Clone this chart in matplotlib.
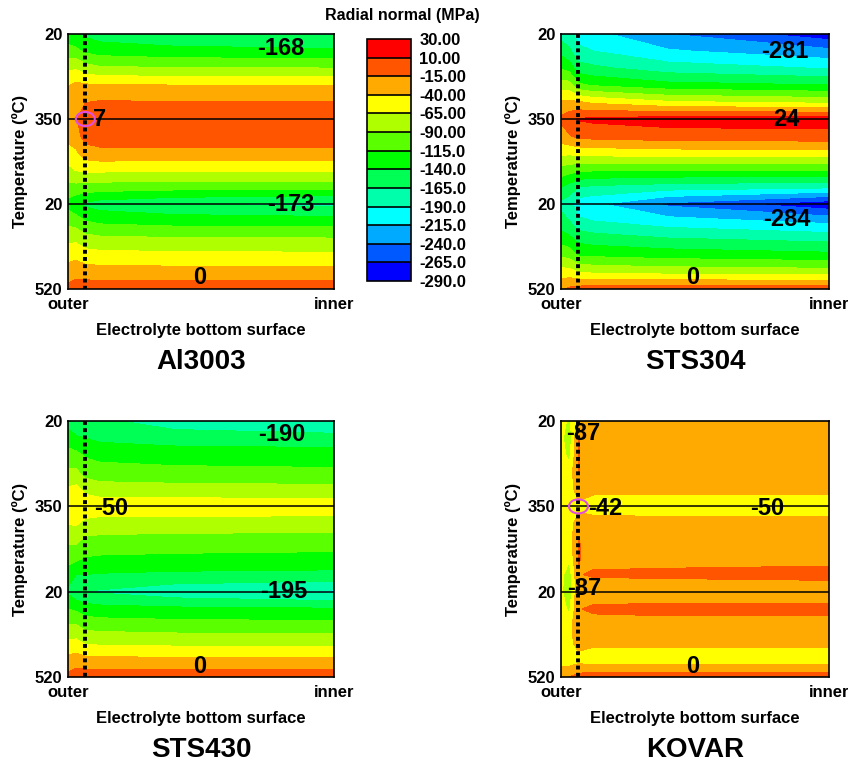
import numpy as np
import matplotlib
matplotlib.use("Agg")
import matplotlib.pyplot as plt
from matplotlib.patches import Ellipse

plt.rcParams['font.family'] = ['Liberation Sans', 'DejaVu Sans']
plt.rcParams['font.weight'] = 'bold'

# contour levels and colours (bottom -> top of the legend)
levels = [-290, -265, -240, -215, -190, -165, -140, -115, -90, -65, -40, -15, 10, 30]
level_labels = ["-290.0", "-265.0", "-240.0", "-215.0", "-190.0", "-165.0", "-140.0",
                "-115.0", "-90.00", "-65.00", "-40.00", "-15.00", "10.00", "30.00"]
band_colors = ["#0000ff", "#0058ff", "#00aaff", "#00ffff", "#00ffaa", "#00ff55", "#00ff00",
               "#5aff00", "#b0ff00", "#ffff00", "#ffaa00", "#ff5500", "#ff0000"]

# grid: x = position along electrolyte bottom (0 outer .. 1 inner)
#       y = step of the thermal cycle (0: 20C, 1: 350C, 2: 20C, 3: 520C)
x_pos = [0.0, 0.03, 0.065, 0.12, 0.4, 1.0]
y_pos = [0.0, 0.2, 0.4, 0.6, 0.8, 1.0, 1.2, 1.4, 1.6, 1.8, 2.0, 2.2, 2.4, 2.6, 2.8, 3.0]

# radial normal stress (MPa), one list per x column
al3003 = [
    [-132, -104, -70, -42, -30, -26, -32, -50, -72, -98, -125, -98, -72, -50, -28, -8],
    [-140, -108, -68, -34, -22, -18, -25, -45, -64, -98, -135, -103, -72, -47, -24, -3],
    [-145, -120, -80, -37, -16, 2, -5, -27, -60, -100, -145, -115, -82, -55, -28, 0],
    [-152, -126, -86, -39, -13, 6, -2, -22, -60, -102, -152, -121, -86, -57, -29, 0],
    [-160, -132, -89, -40, -14, 7, -2, -22, -62, -105, -163, -126, -89, -59, -30, 0],
    [-168, -135, -90, -40, -14, 7, -2, -22, -62, -105, -173, -128, -90, -60, -30, 0],
]
sts304 = [
    [-175, -150, -118, -78, -36, -10, -25, -60, -100, -140, -172, -155, -128, -95, -55, -20],
    [-180, -160, -125, -80, -35, 0, -18, -60, -105, -150, -180, -165, -135, -100, -55, -10],
    [-203, -182, -155, -110, -38, 12, -8, -58, -110, -165, -205, -185, -150, -118, -65, -5],
    [-208, -190, -160, -118, -45, 15, -6, -56, -112, -170, -210, -190, -155, -120, -70, 0],
    [-240, -212, -178, -132, -62, 22, -2, -52, -113, -178, -245, -205, -165, -126, -74, 0],
    [-281, -233, -192, -140, -72, 24, 0, -50, -115, -185, -284, -222, -175, -133, -78, 0],
]
sts430 = [
    [-150, -128, -105, -85, -62, -52, -64, -85, -105, -128, -145, -115, -88, -60, -32, -8],
    [-168, -135, -108, -85, -58, -48, -62, -85, -108, -140, -160, -120, -88, -58, -28, -2],
    [-158, -140, -118, -100, -72, -48, -72, -96, -116, -140, -165, -128, -98, -68, -32, 0],
    [-160, -146, -122, -105, -78, -50, -75, -98, -118, -142, -168, -132, -100, -70, -33, 0],
    [-178, -152, -126, -108, -80, -50, -76, -100, -120, -145, -182, -135, -103, -72, -34, 0],
    [-190, -155, -128, -110, -82, -50, -77, -102, -122, -147, -195, -138, -105, -73, -35, 0],
]
kovar = [
    [-55, -58, -55, -50, -48, -50, -48, -48, -52, -58, -60, -55, -50, -48, -50, -22],
    [-70, -82, -72, -55, -50, -52, -50, -52, -60, -80, -85, -70, -52, -48, -55, -15],
    [-35, -14, -14, -14, -30, -45, -30, -14, -14, -16, -16, -16, -16, -30, -50, -5],
    [-30, -25, -24, -26, -36, -48, -33, -25, -20, -13, -25, -12, -22, -35, -55, 0],
    [-30, -25, -24, -26, -36, -50, -33, -25, -20, -12, -25, -10, -22, -35, -55, 0],
    [-30, -25, -24, -26, -36, -50, -33, -25, -20, -10, -25, -10, -22, -35, -55, 0],
]

titles = ["Al3003", "STS304", "STS430", "KOVAR"]
fields = [al3003, sts304, sts430, kovar]
y_ticklabels = ["20", "350", "20", "520"]
x_ticklabels = ["outer", "inner"]
probe_x = 0.065

# value labels: (x, y, text)
notes = [
    [(0.80, 0.17, "-168"), (0.117, 1.0, "7"), (0.838, 2.0, "-173"), (0.496, 2.87, "0")],
    [(0.836, 0.2, "-281"), (0.842, 1.01, "24"), (0.843, 2.18, "-284"), (0.493, 2.87, "0")],
    [(0.803, 0.16, "-190"), (0.164, 1.02, "-50"), (0.81, 2.0, "-195"), (0.494, 2.88, "0")],
    [(0.083, 0.14, "-87"), (0.164, 1.02, "-42"), (0.768, 1.02, "-50"),
     (0.087, 1.96, "-87"), (0.492, 2.88, "0")],
]
circled = [True, False, False, True]

fig = plt.figure(figsize=(8.48, 7.65), dpi=100)
positions = [[0.0802, 0.6222, 0.3137, 0.3333], [0.6616, 0.6222, 0.316, 0.3333],
             [0.0802, 0.115, 0.3137, 0.3346], [0.6616, 0.115, 0.316, 0.3346]]

X, Y = np.meshgrid(x_pos, y_pos)
cs = None
for i in range(4):
    ax = fig.add_axes(positions[i])
    Z = np.array(fields[i]).T
    cs = ax.contourf(X, Y, Z, levels=levels, colors=band_colors)
    ax.set_xlim(0, 1)
    ax.set_ylim(3, 0)
    ax.axhline(1, color="black", lw=1.1)
    ax.axhline(2, color="black", lw=1.1)
    ax.plot([probe_x, probe_x], [0, 3], color="black", lw=2.8,
            linestyle=(0, (1, 0.85)), solid_capstyle="butt", dash_capstyle="butt")
    if circled[i]:
        ax.add_patch(Ellipse((probe_x, 1.0), 0.071, 0.165, fill=False,
                             edgecolor="#e050e0", lw=1.5, zorder=5))
    for (tx, ty, s) in notes[i]:
        ax.text(tx, ty, s, ha="center", va="center", fontsize=17, fontweight="bold", zorder=6)
    ax.set_yticks([0, 1, 2, 3])
    ax.set_yticklabels(y_ticklabels)
    ax.set_xticks([0, 1])
    ax.set_xticklabels(x_ticklabels)
    ax.tick_params(length=0, labelsize=12)
    ax.tick_params(axis="y", pad=4)
    ax.tick_params(axis="x", pad=6)
    for lab in ax.get_xticklabels() + ax.get_yticklabels():
        lab.set_fontweight("bold")
    for sp in ax.spines.values():
        sp.set_linewidth(1.2)
    ax.text(0.5, -0.161, "Electrolyte bottom surface", transform=ax.transAxes,
            ha="center", va="center", fontsize=12, fontweight="bold")
    ax.text(-0.18, 0.5, "Temperature (ºC)", transform=ax.transAxes, rotation=90,
            ha="center", va="center", fontsize=12, fontweight="bold")
    ax.text(0.5, -0.286, titles[i], transform=ax.transAxes,
            ha="center", va="center", fontsize=20, fontweight="bold")

cax = fig.add_axes([0.4328, 0.6327, 0.0519, 0.3163])
cb = fig.colorbar(cs, cax=cax, spacing="uniform", drawedges=True)
cb.set_ticks(levels)
cb.set_ticklabels(level_labels)
cb.outline.set_linewidth(1.2)
cb.dividers.set_linewidth(1.2)
cax.tick_params(length=0, labelsize=12, pad=6)
for lab in cax.get_yticklabels():
    lab.set_fontweight("bold")
fig.text(0.474, 0.98, "Radial normal (MPa)", ha="center", va="center",
         fontsize=11.5, fontweight="bold")

fig.savefig("out.png", dpi=100)
